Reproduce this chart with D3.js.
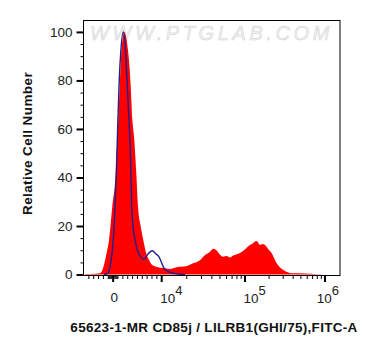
<!DOCTYPE html>
<html>
<head>
<meta charset="utf-8">
<script src="https://cdn.jsdelivr.net/npm/d3@7"></script>
<style>
  html, body { margin: 0; padding: 0; background: #fff; }
  svg { display: block; font-family: "Liberation Sans", Arial, sans-serif; }
</style>
</head>
<body>
<svg width="376" height="356"></svg>
<script>
// sample (red, filled) histogram: fluorescence value -> relative count
const sampleX = [-5800, -3700, -2700, -2200, -1500, -850, -170, 530, 860, 1060, 1350, 1680, 2030, 2340,
  2790, 3120, 3410, 3620, 3950, 4300, 4770, 5120, 5680, 6210, 6770, 7380, 8000, 8830, 9650,
  10950, 12580, 15140, 19960, 23760, 28830, 33110, 38010, 41640, 45740, 50110, 54890, 60000, 66060,
  72000, 79500, 87000, 95410, 115500, 125000, 133400, 141300, 154000, 165000, 177800, 195000, 215700,
  249000, 301200, 401700, 486900, 649400, 707900, 865900, 1155000];
const sampleY = [0.2, 0.3, 0.5, 1.9, 7.3, 14.2, 28, 41.7, 55.5, 63.9, 77.6, 91.3, 98, 100,
  96.6, 91.3, 84.4, 77.4, 64, 57, 41.7, 28, 19.8, 14.2, 9, 6, 4, 3.2, 2.8,
  2.6, 2.3, 3, 3.5, 4.6, 5.9, 8, 9.4, 10.6, 9.9, 8.2, 7.3, 7.6, 7.0,
  7.8, 8.4, 8.9, 9.8, 12.2, 12.8, 13.6, 13.7, 12.2, 12.6, 12.2, 10.5, 8.8,
  4.7, 1.9, 0.5, 0.5, 0.3, 0.2, 0.1, 0];

// isotype control (blue line)
const controlX = [-1880, -1060, -500, 33, 383, 651, 898, 1207, 1557, 2092, 2586, 2916, 3266, 3574,
  3821, 4089, 4501, 4975, 5675, 6354, 7178, 8063, 8825, 9443, 10083, 10660, 11900, 14050, 16590, 19050];
const controlY = [0, 0.5, 4.7, 14.2, 28, 41.7, 58, 77.5, 91.3, 100, 91.3, 77.5, 63.7, 48,
  28, 19.8, 14.2, 10.1, 7.3, 6.2, 8.5, 9.8, 8.5, 7.3, 4.5, 2.6, 1.3, 0.5, 0.1, 0];

const yMajor = [0, 20, 40, 60, 80, 100];
const yMinor = d3.range(0, 101, 5).filter(v => v % 20 !== 0);
const xMajor = [0, 1e4, 1e5, 1e6];
const xMajorLabels = ["0", "4", "5", "6"];
const xMinor = [-5000, -4000, -3000, -2000, -1000, -800, -600, -400, -200, 200, 400, 600, 800,
  1000, 2000, 3000, 4000, 5000, 6000, 7000, 8000, 9000]
  .concat(d3.range(2, 10).map(d => d * 1e4), d3.range(2, 10).map(d => d * 1e5));

const area = { left: 83.5, right: 340, top: 20.5, bottom: 275.5 };
const svg = d3.select("svg");

// biexponential-like display: linear near zero, log above 10^4
const xLin = d3.scaleLinear().domain([-6000, 1e4]).range([area.left + 0.5, 161.7]);
const xLog = d3.scaleLog().domain([1e4, 1e5, 1e6]).range([161.7, 245, 325]);
const x = v => v < 1e4 ? xLin(v) : xLog(v);
const y = d3.scaleLinear().domain([-0.4, 104.7]).range([area.bottom, area.top]);

// watermark
svg.append("text")
  .attr("x", 90).attr("y", 40)
  .attr("font-size", 20).attr("font-style", "italic")
  .attr("letter-spacing", 3.6)
  .attr("fill", "#f0f0f0").attr("stroke", "#d4d4d4").attr("stroke-width", 0.5)
  .text("WWW.PTGLAB.COM");

const sample = sampleX.map((v, i) => ({ x: v, y: sampleY[i] }));
const control = controlX.map((v, i) => ({ x: v, y: controlY[i] }));

svg.append("path")
  .datum(sample)
  .attr("fill", "#ff0000")
  .attr("d", d3.area().x(d => x(d.x)).y0(y(0)).y1(d => y(d.y)).curve(d3.curveMonotoneX));

svg.append("path")
  .datum(control)
  .attr("fill", "none")
  .attr("stroke", "#1f1f8f")
  .attr("stroke-width", 1.4)
  .attr("d", d3.line().x(d => x(d.x)).y(d => y(d.y)).curve(d3.curveMonotoneX));

// frame
svg.append("rect")
  .attr("x", area.left).attr("y", area.top)
  .attr("width", area.right - area.left).attr("height", area.bottom - area.top)
  .attr("fill", "none").attr("stroke", "#000").attr("stroke-width", 1);

// y axis
const gyMinor = svg.append("g")
  .attr("transform", `translate(${area.left},0)`)
  .call(d3.axisLeft(y).tickValues(yMinor).tickSize(3).tickFormat(""));
const gyMajor = svg.append("g")
  .attr("transform", `translate(${area.left},0)`)
  .call(d3.axisLeft(y).tickValues(yMajor).tickSize(7).tickPadding(4));
[gyMinor, gyMajor].forEach(g => g.select(".domain").remove());
gyMajor.selectAll(".tick line").attr("stroke-width", 2);
gyMajor.selectAll(".tick text")
  .attr("font-family", "'Liberation Sans', Arial, sans-serif")
  .attr("font-size", 13.5).attr("fill", "#222");

// x axis ticks
svg.append("g").selectAll("line")
  .data(xMinor).join("line")
  .attr("x1", d => x(d)).attr("x2", d => x(d))
  .attr("y1", area.bottom).attr("y2", area.bottom + 3.5)
  .attr("stroke", "#000").attr("stroke-width", 1);
svg.append("g").selectAll("line")
  .data(xMajor).join("line")
  .attr("x1", d => x(d)).attr("x2", d => x(d))
  .attr("y1", area.bottom).attr("y2", area.bottom + 6.5)
  .attr("stroke", "#000").attr("stroke-width", 2);

// x tick labels
const gxl = svg.append("g").attr("font-size", 13.5).attr("fill", "#222");
xMajor.forEach((v, i) => {
  if (v === 0) {
    gxl.append("text").attr("x", x(v) + 1).attr("y", 302)
      .attr("text-anchor", "middle").text(xMajorLabels[i]);
    return;
  }
  const t = gxl.append("text").attr("x", x(v) - 1.5).attr("y", 303);
  t.append("tspan").text("10");
  t.append("tspan").attr("dy", -8).attr("font-size", 13).text(xMajorLabels[i]);
  const w = t.node().getComputedTextLength();
  const over = x(v) - 1.5 + w - 339;
  if (over > 0) t.attr("x", x(v) - 1.5 - over);
});

// axis titles
svg.append("text")
  .attr("x", 214).attr("y", 332)
  .attr("text-anchor", "middle")
  .attr("font-size", 13.5).attr("letter-spacing", 0.3)
  .attr("font-weight", "bold").attr("fill", "#111")
  .text("65623-1-MR CD85j / LILRB1(GHI/75),FITC-A");

svg.append("text")
  .attr("transform", "translate(32,143.5) rotate(-90)")
  .attr("text-anchor", "middle")
  .attr("font-size", 13.5).attr("letter-spacing", 0.4)
  .attr("font-weight", "bold").attr("fill", "#111")
  .text("Relative Cell Number");
</script>
</body>
</html>
